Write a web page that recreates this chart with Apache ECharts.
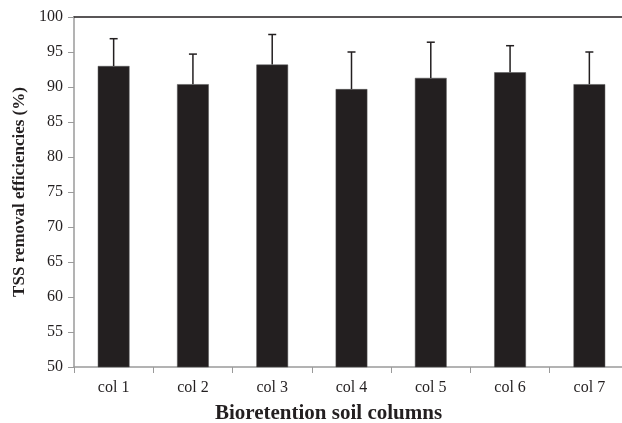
<!DOCTYPE html>
<html>
<head>
<meta charset="utf-8">
<script src="https://cdn.jsdelivr.net/npm/echarts@6/dist/echarts.min.js"></script>
<style>
  html, body { margin: 0; padding: 0; background: #fff; }
  #main { width: 622px; height: 423px; }
</style>
</head>
<body>
<div id="main"></div>
<script>
// data
var categories = ["col 1", "col 2", "col 3", "col 4", "col 5", "col 6", "col 7"];
var means = [93.0, 90.4, 93.2, 89.7, 91.3, 92.1, 90.4];
var upperErr = [96.9, 94.7, 97.5, 95.0, 96.4, 95.9, 95.0];

var errData = categories.map(function (c, i) {
    return [i, means[i], upperErr[i]];
});

var font = "Liberation Serif";
var myChart = echarts.init(document.getElementById('main'));

var option = {
    animation: false,
    grid: {
        left: 74,
        top: 17,
        width: 555,
        height: 350,
        outerBoundsMode: "none"
    },
    xAxis: [{
        type: "category",
        data: categories,
        name: "Bioretention soil columns",
        nameLocation: "middle",
        nameGap: 36,
        nameTextStyle: {
            fontFamily: font, fontWeight: "bold", fontSize: 21, color: "#231f20",
            padding: [0, 46, 0, 0]
        },
        axisLine: { lineStyle: { color: "#9a9a9a", width: 1.5 } },
        axisTick: { show: true, length: 6, lineStyle: { color: "#9a9a9a" } },
        axisLabel: { fontFamily: font, fontSize: 16, color: "#231f20", margin: 13 }
    }, {
        // top border line
        type: "category",
        data: categories,
        position: "top",
        axisLine: { lineStyle: { color: "#231f20", width: 1.5 } },
        axisTick: { show: false },
        axisLabel: { show: false }
    }],
    yAxis: {
        type: "value",
        min: 50,
        max: 100,
        interval: 5,
        name: "TSS removal efficiencies (%)",
        nameLocation: "middle",
        nameGap: 44,
        nameTextStyle: { fontFamily: font, fontWeight: "bold", fontSize: 17, color: "#231f20" },
        splitLine: { show: false },
        axisLine: { show: true, lineStyle: { color: "#9a9a9a", width: 1.5 } },
        axisTick: { show: true, length: 6, lineStyle: { color: "#9a9a9a" } },
        axisLabel: { fontFamily: font, fontSize: 16, color: "#231f20", margin: 11 }
    },
    series: [{
        name: "TSS",
        type: "bar",
        data: means,
        barWidth: "40%",
        itemStyle: { color: "#231f20", borderColor: "#555", borderWidth: 0.5 }
    }, {
        // 误差线
        type: "custom",
        data: errData,
        z: 3,
        renderItem: function (params, api) {
            var base = api.coord([api.value(0), api.value(1)]);
            var top = api.coord([api.value(0), api.value(2)]);
            var style = { stroke: "#231f20", lineWidth: 1.5 };
            return {
                type: "group",
                children: [{
                    type: "line",
                    shape: { x1: base[0], y1: base[1], x2: top[0], y2: top[1] },
                    style: style
                }, {
                    type: "line",
                    shape: { x1: top[0] - 4, y1: top[1], x2: top[0] + 4, y2: top[1] },
                    style: style
                }]
            };
        }
    }]
};

myChart.setOption(option);
</script>
</body>
</html>
